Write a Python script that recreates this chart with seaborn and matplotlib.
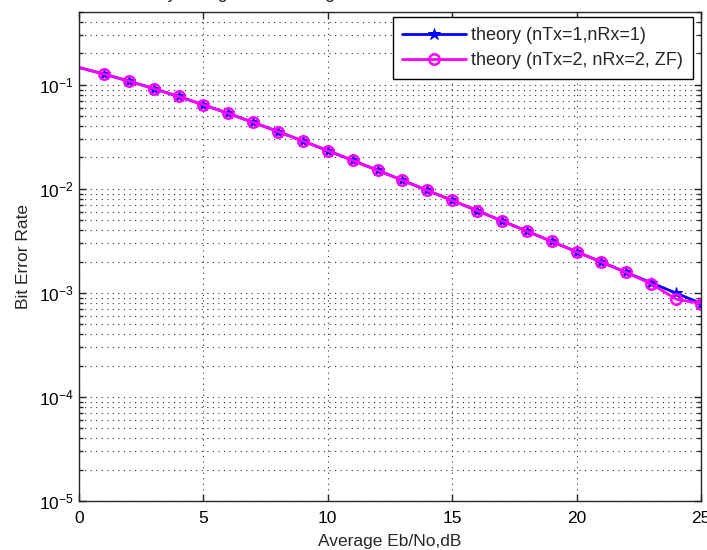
import matplotlib
matplotlib.use("Agg")
import matplotlib.pyplot as plt
import seaborn as sns
import pandas as pd
import numpy as np
from matplotlib.ticker import LogLocator, NullFormatter, FixedLocator

# Eb/No axis (dB) and bit error rates
ebno_db = list(range(0, 26))
ber_siso = [0.14645, 0.12673, 0.10848, 0.09191, 0.07713, 0.06418, 0.05300,
            0.04347, 0.03546, 0.02878, 0.02327, 0.01875, 0.01506, 0.01207,
            0.00966, 0.00773, 0.00617, 0.00492, 0.00392, 0.00312, 0.00248,
            0.00198, 0.00157, 0.00125, 0.000995, 0.000790]
ber_zf = [0.14645, 0.12673, 0.10848, 0.09191, 0.07713, 0.06418, 0.05300,
          0.04347, 0.03546, 0.02878, 0.02327, 0.01875, 0.01506, 0.01207,
          0.00966, 0.00773, 0.00617, 0.00492, 0.00392, 0.00312, 0.00248,
          0.00198, 0.00157, 0.00122, 0.000870, 0.000790]
labels = ["theory (nTx=1,nRx=1)", "theory (nTx=2, nRx=2, ZF)"]
x_ticks = [0, 5, 10, 15, 20, 25]

sns.set_style("ticks")
plt.rcParams["font.family"] = ["Liberation Sans", "DejaVu Sans"]
plt.rcParams["mathtext.fontset"] = "custom"
plt.rcParams["mathtext.rm"] = "Liberation Sans"
plt.rcParams["mathtext.it"] = "Liberation Sans"
plt.rcParams["mathtext.default"] = "regular"

fig = plt.figure(figsize=(7.07, 5.50), dpi=100)
ax = fig.add_axes([79 / 707, 1 - 501 / 550, (701 - 79) / 707, (501 - 12) / 550])

df1 = pd.DataFrame({"ebno": ebno_db, "ber": ber_siso})
df2 = pd.DataFrame({"ebno": ebno_db, "ber": ber_zf})

sns.lineplot(data=df1, x="ebno", y="ber", ax=ax, color="#0000ff", lw=2,
             marker="*", markersize=9, markevery=list(range(1, 26)),
             markeredgecolor="#0000ff", label=labels[0])
sns.lineplot(data=df2, x="ebno", y="ber", ax=ax, color="#ff00ff", lw=2,
             marker="o", markersize=7.5, markevery=list(range(1, 26)),
             markerfacecolor="none", markeredgecolor="#ff00ff",
             markeredgewidth=1.8, label=labels[1])

ax.set_yscale("log")
ax.set_xlim(0, 25)
ax.set_ylim(1e-5, 0.5)
ax.xaxis.set_major_locator(FixedLocator(x_ticks))
ax.yaxis.set_major_locator(LogLocator(base=10, numticks=10))
ax.yaxis.set_minor_locator(LogLocator(base=10, subs=np.arange(2, 10), numticks=20))
ax.yaxis.set_minor_formatter(NullFormatter())

ax.grid(True, which="major", axis="both", color="#303030", linestyle=(0, (1, 4)), lw=0.8)
ax.grid(True, which="minor", axis="y", color="#303030", linestyle=(0, (1, 4)), lw=0.8)

ax.tick_params(which="both", direction="in", top=True, right=True,
               colors="#262626", labelcolor="black", labelsize=12.5)
ax.tick_params(which="major", length=5, width=1)
ax.tick_params(which="minor", length=3, width=1)
ax.tick_params(axis="x", which="major", pad=7)
for s in ax.spines.values():
    s.set_color("#262626")
    s.set_linewidth(1)

ax.set_xlabel("Average Eb/No,dB", fontsize=12.5, labelpad=6)
ax.set_ylabel("Bit Error Rate", fontsize=12.5, labelpad=6)

leg = ax.legend(loc="upper right", bbox_to_anchor=(0.987, 0.99), borderaxespad=0,
                fancybox=False, framealpha=1, edgecolor="black", fontsize=13,
                handlelength=3.5, handletextpad=0.3, borderpad=0.55, labelspacing=0.45)
leg.get_frame().set_linewidth(1)

fig.text(0.03, 1 + 1.5 / 550, "Bit Error Probability Using Zero Forcing Receiver",
         fontsize=13, ha="left", va="baseline")

fig.savefig("out.png", dpi=100, facecolor="white")
